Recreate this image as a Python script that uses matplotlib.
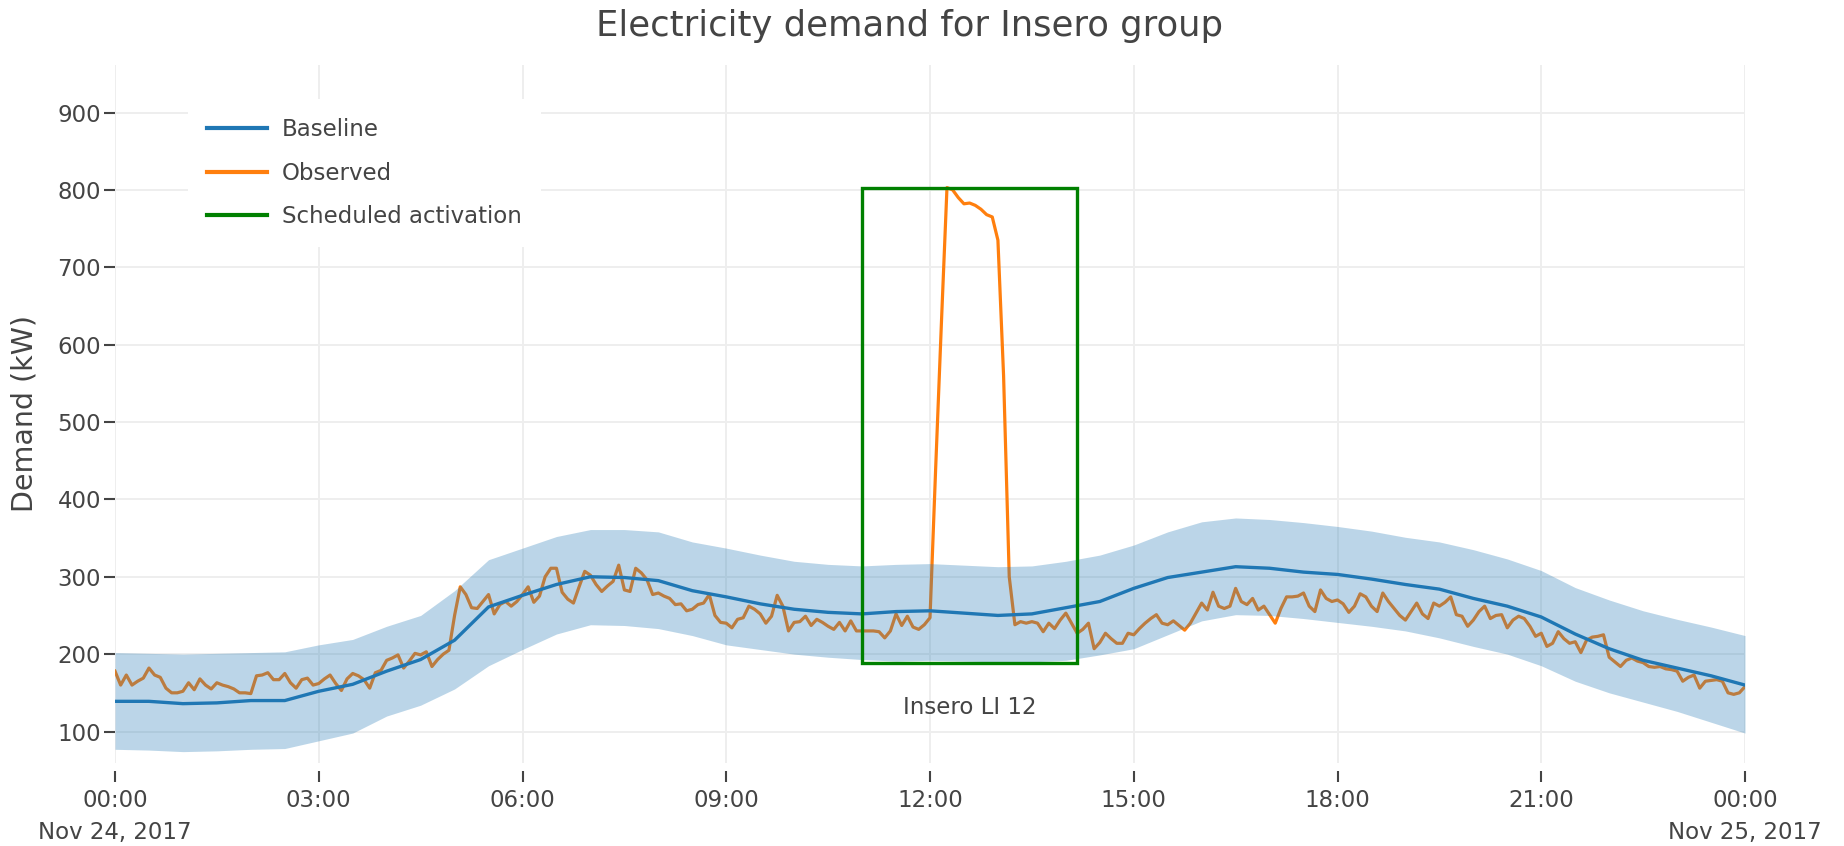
import numpy as np
import pandas as pd
import matplotlib
matplotlib.use("Agg")
import matplotlib.pyplot as plt
import matplotlib.dates as mdates
from matplotlib.patches import Rectangle
from matplotlib.lines import Line2D

# ---------------- data ----------------
day_start = "2017-11-24 00:00"
day_end = "2017-11-25 00:00"

# Observed demand, 5-minute resolution (kW), 00:00 .. 24:00
observed = [
    178, 160, 173, 160, 165, 169, 182, 173, 170, 156, 150, 150,   # 00
    152, 163, 154, 168, 160, 155, 163, 160, 158, 155, 150, 150,   # 01
    149, 172, 173, 176, 167, 167, 175, 163, 156, 167, 169, 160,   # 02
    162, 168, 173, 162, 153, 168, 175, 172, 167, 156, 176, 179,   # 03
    192, 195, 199, 182, 191, 201, 199, 203, 184, 193, 200, 205,   # 04
    250, 287, 277, 260, 259, 268, 277, 252, 264, 268, 262, 268,   # 05
    277, 287, 267, 275, 300, 311, 311, 280, 271, 266, 287, 307,   # 06
    302, 290, 281, 288, 294, 315, 283, 281, 311, 305, 296, 277,   # 07
    279, 275, 272, 264, 265, 256, 258, 264, 266, 277, 250, 241,   # 08
    240, 234, 245, 247, 262, 258, 252, 240, 249, 276, 262, 230,   # 09
    241, 242, 249, 237, 245, 241, 236, 232, 241, 230, 243, 230,   # 10
    230, 230, 230, 229, 221, 230, 252, 237, 249, 235, 232, 238,   # 11
    247, 440, 625, 803, 800, 790, 782, 783, 780, 775, 768, 765,   # 12
    735, 560, 300, 238, 242, 240, 242, 240, 229, 240, 233, 244,   # 13
    253, 240, 227, 232, 240, 207, 215, 227, 220, 214, 214, 227,   # 14
    225, 233, 240, 246, 251, 240, 238, 243, 237, 231, 240, 253,   # 15
    266, 257, 280, 262, 259, 262, 285, 268, 264, 272, 257, 262,   # 16
    251, 240, 259, 274, 274, 275, 279, 262, 255, 283, 272, 268,   # 17
    270, 265, 254, 262, 278, 274, 262, 255, 279, 268, 259, 250,   # 18
    244, 255, 266, 252, 246, 266, 262, 267, 274, 251, 249, 236,   # 19
    244, 255, 262, 246, 250, 251, 234, 244, 249, 246, 236, 223,   # 20
    227, 210, 214, 229, 220, 214, 216, 202, 218, 222, 223, 225,   # 21
    196, 190, 184, 192, 195, 191, 189, 184, 183, 184, 181, 180,   # 22
    178, 165, 170, 173, 156, 165, 166, 167, 165, 150, 148, 150,   # 23
    158,
]

# Baseline and its band, 30-minute resolution (kW), 00:00 .. 24:00
baseline = [
    139, 139, 136, 137, 140, 140, 152, 161, 178, 193,
    218, 261, 276, 290, 300, 299, 295, 282, 274, 265,
    258, 254, 252, 255, 256, 253, 250, 252, 260, 268,
    285, 299, 306, 313, 311, 306, 303, 297, 290, 284,
    272, 262, 248, 226, 207, 192, 182, 172, 160,
]
band_upper = [
    202, 201, 200, 201, 202, 203, 212, 219, 236, 250,
    282, 322, 337, 352, 361, 361, 358, 345, 337, 328,
    320, 316, 314, 316, 317, 315, 313, 314, 320, 328,
    341, 358, 371, 376, 374, 370, 365, 359, 351, 345,
    335, 323, 308, 286, 270, 256, 245, 235, 224,
]
band_lower = [
    77, 76, 74, 75, 77, 78, 88, 98, 120, 134,
    155, 185, 206, 226, 238, 237, 233, 224, 212, 206,
    200, 196, 193, 191, 192, 191, 190, 190, 192, 199,
    207, 225, 243, 251, 250, 246, 241, 236, 230, 221,
    210, 200, 185, 165, 150, 138, 126, 112, 98,
]

activation_start = "2017-11-24 11:00"
activation_end = "2017-11-24 14:10"
activation_low = 189
activation_high = 803
activation_label = "Insero LI 12"
label_value = 131

y_ticks = [100, 200, 300, 400, 500, 600, 700, 800, 900]
x_tick_times = pd.date_range(day_start, day_end, freq="3h")
x_tick_labels = ["00:00\nNov 24, 2017", "03:00", "06:00", "09:00", "12:00",
                 "15:00", "18:00", "21:00", "00:00\nNov 25, 2017"]

# ---------------- plotting ----------------
BLUE = "#1f77b4"
ORANGE = "#ff7f0e"
GREEN = "#008000"
TXT = "#444444"

obs_t = mdates.date2num(pd.date_range(day_start, day_end, freq="5min").to_pydatetime())
base_t = mdates.date2num(pd.date_range(day_start, day_end, freq="30min").to_pydatetime())

W, H = 1844, 846
fig = plt.figure(figsize=(W / 100, H / 100), dpi=100)
left, right, top, bottom = 115, 1745, 65, 763
ax = fig.add_axes([left / W, 1 - bottom / H, (right - left) / W, (bottom - top) / H])

ax.plot(obs_t, observed, color=ORANGE, lw=2.3, zorder=2, label="Observed",
        solid_joinstyle="round")
ax.fill_between(base_t, band_lower, band_upper, color=BLUE, alpha=0.3,
                linewidth=0, zorder=3)
ax.plot(base_t, baseline, color=BLUE, lw=2.4, zorder=4, label="Baseline")

x0 = mdates.date2num(pd.Timestamp(activation_start).to_pydatetime())
x1 = mdates.date2num(pd.Timestamp(activation_end).to_pydatetime())
ax.add_patch(Rectangle((x0, activation_low), x1 - x0, activation_high - activation_low,
                       fill=False, edgecolor=GREEN, lw=2.4, zorder=5))
ax.text((x0 + x1) / 2, label_value, activation_label, ha="center", va="center",
        fontsize=16.5, color=TXT, zorder=6)

ax.set_xlim(mdates.date2num(pd.Timestamp(day_start).to_pydatetime()),
            mdates.date2num(pd.Timestamp(day_end).to_pydatetime()))
ax.set_ylim(59.3, 961.4)

ax.set_xticks(mdates.date2num(x_tick_times.to_pydatetime()))
ax.set_xticklabels(x_tick_labels)
ax.set_yticks(y_ticks)
ax.set_yticklabels([str(v) for v in y_ticks])

for s in ax.spines.values():
    s.set_visible(False)
ax.spines["bottom"].set_position(("outward", 6))

ax.grid(True, color="#eeeeee", linewidth=1.4)
ax.set_axisbelow(True)
ax.tick_params(axis="both", direction="out", length=8, width=1.5, color=TXT,
               labelcolor=TXT, labelsize=16.5)
ax.tick_params(axis="y", pad=2)
ax.tick_params(axis="x", pad=5)
for lab in ax.get_xticklabels():
    lab.set_linespacing(1.5)

handles = [Line2D([], [], color=BLUE, lw=3),
           Line2D([], [], color=ORANGE, lw=3),
           Line2D([], [], color=GREEN, lw=3)]
leg = ax.legend(handles, ["Baseline", "Observed", "Scheduled activation"],
                loc="upper left", bbox_to_anchor=(188 / W, 1 - 99 / H),
                bbox_transform=fig.transFigure, borderaxespad=0,
                fontsize=16.5, handlelength=2.6, handletextpad=0.65,
                labelspacing=0.88, borderpad=0.85, frameon=True, fancybox=False)
leg.get_frame().set_facecolor("white")
leg.get_frame().set_edgecolor("none")
leg.get_frame().set_alpha(1.0)
for t in leg.get_texts():
    t.set_color(TXT)
leg.set_zorder(10)

fig.text(909 / W, 1 - 26 / H, "Electricity demand for Insero group",
         ha="center", va="center", fontsize=25.5, color=TXT)
fig.text(24 / W, 1 - 414 / H, "Demand (kW)", rotation=90, ha="center",
         va="center", fontsize=20.5, color=TXT)

fig.savefig("out.png", dpi=100, facecolor="white")
